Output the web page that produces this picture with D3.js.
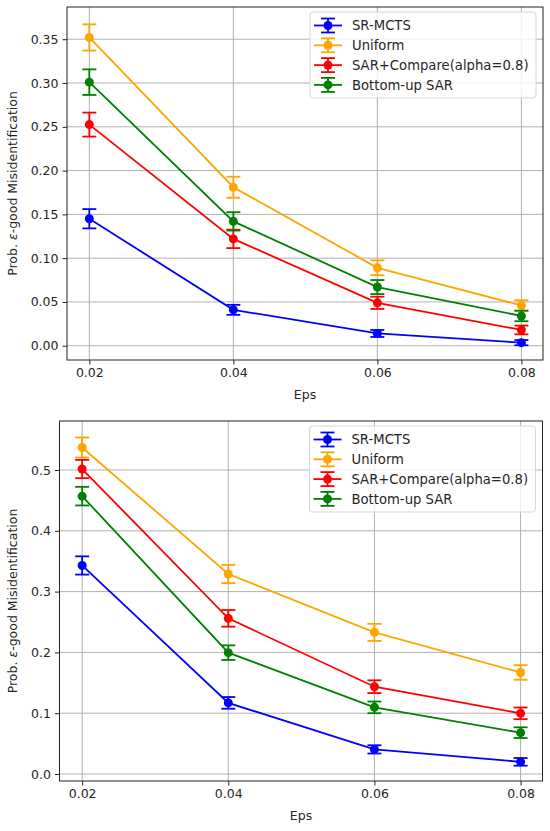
<html>
<script src='https://d3js.org/d3.v7.min.js'></script>
<style>
body { margin:0; background:white; }
text { font-family: "DejaVu Sans", sans-serif; fill:#262626; }
</style>
<body>
<svg width=550 height=831></svg>
<script>

// eps values on the x axis
const eps = [0.02, 0.04, 0.06, 0.08];
const seriesNames = ["SR-MCTS", "Uniform", "SAR+Compare(alpha=0.8)", "Bottom-up SAR"];
const seriesColors = ["blue", "orange", "red", "green"];

// top chart
const srMcts1 = [0.145, 0.041, 0.014, 0.0035];
const srMcts1Err = [0.011, 0.0057, 0.004, 0.003];
const uniform1 = [0.352, 0.181, 0.089, 0.046];
const uniform1Err = [0.015, 0.012, 0.0085, 0.006];
const sarCompare1 = [0.2525, 0.122, 0.049, 0.018];
const sarCompare1Err = [0.0137, 0.0105, 0.007, 0.005];
const bottomUp1 = [0.301, 0.142, 0.067, 0.034];
const bottomUp1Err = [0.0146, 0.0105, 0.008, 0.006];
const yTicks1 = [0.00, 0.05, 0.10, 0.15, 0.20, 0.25, 0.30, 0.35];

// bottom chart
const srMcts2 = [0.343, 0.117, 0.0405, 0.020];
const srMcts2Err = [0.015, 0.0096, 0.0068, 0.0063];
const uniform2 = [0.537, 0.329, 0.233, 0.167];
const uniform2Err = [0.0165, 0.015, 0.014, 0.012];
const sarCompare2 = [0.5016, 0.256, 0.1436, 0.0998];
const sarCompare2Err = [0.015, 0.0137, 0.0105, 0.0096];
const bottomUp2 = [0.457, 0.1996, 0.1096, 0.068];
const bottomUp2Err = [0.0153, 0.012, 0.0096, 0.0088];
const yTicks2 = [0.0, 0.1, 0.2, 0.3, 0.4, 0.5];

const svg = d3.select("svg");

function drawChart(box, yDomain, yTicks, yFmt, vals, errs) {
  var x = d3.scaleLinear().domain([0.0169, 0.0830]).range([box.left, box.right]);
  var y = d3.scaleLinear().domain(yDomain).range([box.bottom, box.top]);
  var g = svg.append("g");

  // grid
  g.selectAll(".gx").data(eps).enter().append("line")
    .attr("x1", d => x(d)).attr("x2", d => x(d))
    .attr("y1", box.top).attr("y2", box.bottom)
    .style("stroke", "#b0b0b0").style("stroke-width", 1);
  g.selectAll(".gy").data(yTicks).enter().append("line")
    .attr("x1", box.left).attr("x2", box.right)
    .attr("y1", d => y(d)).attr("y2", d => y(d))
    .style("stroke", "#b0b0b0").style("stroke-width", 1);

  // series, drawn in legend order
  vals.forEach(function(v, s) {
    var col = seriesColors[s];
    var pts = eps.map((e, i) => ({x: e, y: v[i], err: errs[s][i]}));
    g.append("path")
      .attr("d", d3.line().x(d => x(d.x)).y(d => y(d.y))(pts))
      .style("fill", "none").style("stroke", col).style("stroke-width", 1.8);
    var eb = g.selectAll(null).data(pts).enter().append("g");
    eb.append("line")
      .attr("x1", d => x(d.x)).attr("x2", d => x(d.x))
      .attr("y1", d => y(d.y - d.err)).attr("y2", d => y(d.y + d.err))
      .style("stroke", col).style("stroke-width", 1.8);
    [-1, 1].forEach(function(sg) {
      eb.append("line")
        .attr("x1", d => x(d.x) - 7).attr("x2", d => x(d.x) + 7)
        .attr("y1", d => y(d.y + sg * d.err)).attr("y2", d => y(d.y + sg * d.err))
        .style("stroke", col).style("stroke-width", 1.8);
    });
    eb.append("circle")
      .attr("cx", d => x(d.x)).attr("cy", d => y(d.y)).attr("r", 4.5)
      .style("fill", col);
  });

  // axes
  g.append("g").attr("transform", "translate(0," + box.bottom + ")")
    .call(d3.axisBottom(x).tickValues(eps).tickFormat(d3.format(".2f")).tickSize(4.5).tickPadding(4))
    .call(a => a.select(".domain").remove())
    .selectAll("text").style("font-size", "12.5px").style("font-family", "DejaVu Sans");
  g.append("g").attr("transform", "translate(" + box.left + ",0)")
    .call(d3.axisLeft(y).tickValues(yTicks).tickFormat(d3.format(yFmt)).tickSize(4.5).tickPadding(4))
    .call(a => a.select(".domain").remove())
    .selectAll("text").style("font-size", "12.5px").style("font-family", "DejaVu Sans");
  g.selectAll(".tick line").style("stroke", "#222");

  g.append("rect")
    .attr("x", box.left).attr("y", box.top)
    .attr("width", box.right - box.left).attr("height", box.bottom - box.top)
    .style("fill", "none").style("stroke", "#222").style("stroke-width", 1);

  // labels
  g.append("text")
    .attr("x", (box.left + box.right) / 2).attr("y", box.bottom + 39)
    .attr("text-anchor", "middle").style("font-size", "12.5px")
    .text("Eps");
  var yl = g.append("text")
    .attr("transform", "translate(17," + ((box.top + box.bottom) / 2) + ") rotate(-90)")
    .attr("text-anchor", "middle").style("font-size", "12.5px");
  yl.append("tspan").text("Prob. ");
  yl.append("tspan").style("font-style", "italic").text("ε");
  yl.append("tspan").text("-good Misidentification");

  // legend
  var lg = g.append("g").attr("transform", "translate(" + (box.right - 233) + "," + (box.top + 5) + ")");
  lg.append("rect").attr("x", 0).attr("y", 0).attr("width", 226).attr("height", 86).attr("rx", 3)
    .style("fill", "white").style("fill-opacity", 0.8).style("stroke", "#d6d6d6");
  seriesNames.forEach(function(n, i) {
    var ry = 13.5 + i * 19.8;
    var col = seriesColors[i];
    lg.append("line").attr("x1", 4).attr("x2", 32).attr("y1", ry).attr("y2", ry)
      .style("stroke", col).style("stroke-width", 1.8);
    lg.append("line").attr("x1", 18).attr("x2", 18).attr("y1", ry - 7).attr("y2", ry + 7)
      .style("stroke", col).style("stroke-width", 1.8);
    [-7, 7].forEach(function(o) {
      lg.append("line").attr("x1", 11).attr("x2", 25).attr("y1", ry + o).attr("y2", ry + o)
        .style("stroke", col).style("stroke-width", 1.8);
    });
    lg.append("circle").attr("cx", 18).attr("cy", ry).attr("r", 4.5).style("fill", col);
    lg.append("text").attr("x", 42).attr("y", ry + 4.7).style("font-size", "13.2px").text(n);
  });
}

drawChart({left: 67, right: 543, top: 7, bottom: 360}, [-0.0163, 0.3868], yTicks1, ".2f",
  [srMcts1, uniform1, sarCompare1, bottomUp1],
  [srMcts1Err, uniform1Err, sarCompare1Err, bottomUp1Err]);

drawChart({left: 59.5, right: 542.5, top: 421, bottom: 781}, [-0.0115, 0.5806], yTicks2, ".1f",
  [srMcts2, uniform2, sarCompare2, bottomUp2],
  [srMcts2Err, uniform2Err, sarCompare2Err, bottomUp2Err]);

</script>
</body>
</html>
